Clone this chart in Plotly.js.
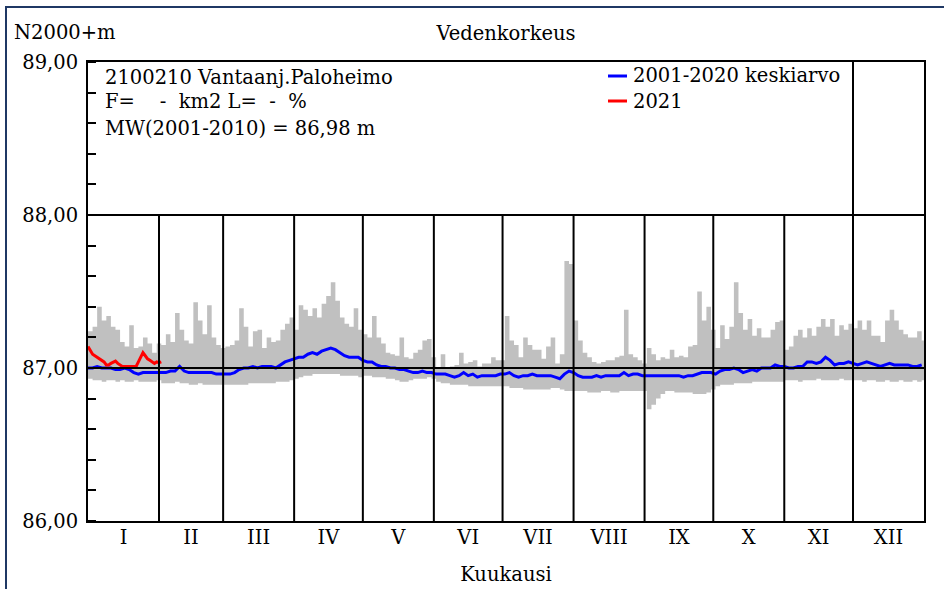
<!DOCTYPE html>
<html><head><meta charset="utf-8">
<script src="https://cdn.plot.ly/plotly-3.0.1.min.js"></script>
<style>html,body{margin:0;padding:0;background:#fff;} #chart{width:944px;height:589px;}</style>
</head><body><div id="chart"></div>
<script>
// ---- data ----
const monthStarts = [0, 31, 59, 90, 120, 151, 181, 212, 243, 273, 304, 334, 365];
const monthLabels = ['I', 'II', 'III', 'IV', 'V', 'VI', 'VII', 'VIII', 'IX', 'X', 'XI', 'XII'];
const yTickValues = [86, 87, 88, 89];
const yTickLabels = ['86,00', '87,00', '88,00', '89,00'];
const binDays = 2; // each value below covers 2 days

// daily maximum 2001-2020 (grey band top)
const maxLevel = [
  87.24, 87.27, 87.40, 87.31, 87.34, 87.27, 87.25, 87.17, 87.14, 87.28, 87.13, 87.14, 87.20, 87.16, 87.10, 87.16,
  87.15, 87.22, 87.17, 87.36, 87.25, 87.18, 87.16, 87.43, 87.31, 87.22, 87.41, 87.20, 87.15, 87.13,
  87.14, 87.15, 87.18, 87.39, 87.27, 87.14, 87.24, 87.25, 87.13, 87.20, 87.17, 87.18, 87.25, 87.29, 87.33,
  87.25, 87.41, 87.38, 87.34, 87.39, 87.33, 87.42, 87.47, 87.56, 87.44, 87.33, 87.29, 87.27, 87.39, 87.25,
  87.22, 87.20, 87.34, 87.20, 87.16, 87.10, 87.09, 87.08, 87.20, 87.07, 87.06, 87.10, 87.12, 87.18, 87.19, 87.07,
  87.00, 87.09, 87.00, 87.01, 87.02, 87.10, 87.03, 87.04, 87.05, 87.01, 87.03, 87.03, 87.07, 87.05, 87.05,
  87.34, 87.18, 87.15, 87.07, 87.20, 87.15, 87.12, 87.12, 87.06, 87.14, 87.20, 87.03, 87.09, 87.70, 87.68,
  87.31, 87.18, 87.10, 87.07, 87.04, 87.03, 87.04, 87.05, 87.05, 87.07, 87.08, 87.38, 87.09, 87.07, 87.05, 87.03,
  87.13, 87.09, 87.05, 87.07, 87.06, 87.12, 87.07, 87.08, 87.07, 87.14, 87.15, 87.50, 87.31, 87.40, 87.25,
  87.13, 87.28, 87.19, 87.27, 87.56, 87.36, 87.25, 87.32, 87.21, 87.26, 87.20, 87.20, 87.25, 87.30, 87.31,
  87.12, 87.14, 87.21, 87.25, 87.20, 87.26, 87.21, 87.27, 87.32, 87.27, 87.32, 87.21, 87.28, 87.25, 87.29,
  87.26, 87.31, 87.25, 87.31, 87.21, 87.21, 87.17, 87.31, 87.38, 87.31, 87.25, 87.22, 87.20, 87.20, 87.24, 87.18
];
// daily minimum 2001-2020 (grey band bottom)
const minLevel = [
  86.93, 86.92, 86.92, 86.91, 86.92, 86.92, 86.91, 86.92, 86.91, 86.91, 86.92, 86.91, 86.91, 86.91, 86.91, 86.92,
  86.90, 86.90, 86.90, 86.91, 86.90, 86.90, 86.89, 86.89, 86.90, 86.89, 86.89, 86.89, 86.89, 86.89,
  86.89, 86.89, 86.89, 86.89, 86.89, 86.90, 86.90, 86.90, 86.90, 86.90, 86.90, 86.91, 86.91, 86.91, 86.92,
  86.93, 86.94, 86.95, 86.95, 86.96, 86.96, 86.96, 86.96, 86.96, 86.96, 86.95, 86.95, 86.95, 86.95, 86.94,
  86.95, 86.95, 86.94, 86.94, 86.94, 86.93, 86.93, 86.92, 86.91, 86.91, 86.92, 86.93, 86.93, 86.93, 86.94, 86.93,
  86.91, 86.90, 86.90, 86.89, 86.89, 86.89, 86.89, 86.88, 86.88, 86.88, 86.88, 86.88, 86.88, 86.88, 86.88,
  86.88, 86.87, 86.87, 86.87, 86.86, 86.86, 86.86, 86.86, 86.86, 86.86, 86.87, 86.87, 86.86, 86.85, 86.85,
  86.85, 86.85, 86.85, 86.84, 86.84, 86.84, 86.85, 86.85, 86.84, 86.84, 86.85, 86.85, 86.85, 86.85, 86.85, 86.85,
  86.73, 86.76, 86.80, 86.83, 86.85, 86.85, 86.84, 86.84, 86.84, 86.84, 86.83, 86.83, 86.83, 86.84, 86.86,
  86.88, 86.89, 86.89, 86.89, 86.90, 86.90, 86.90, 86.90, 86.91, 86.91, 86.91, 86.91, 86.91, 86.91, 86.91,
  86.92, 86.92, 86.92, 86.91, 86.92, 86.92, 86.92, 86.93, 86.92, 86.92, 86.92, 86.92, 86.93, 86.92, 86.92,
  86.92, 86.92, 86.91, 86.92, 86.92, 86.91, 86.91, 86.92, 86.91, 86.91, 86.92, 86.91, 86.91, 86.92, 86.91, 86.92
];
// 2001-2020 keskiarvo
const meanLevel = [
  87.00, 87.00, 87.01, 87.00, 87.00, 87.00, 86.99, 86.99, 87.00, 86.99, 86.97, 86.96, 86.97, 86.97, 86.97, 86.97,
  86.97, 86.97, 86.98, 86.98, 87.01, 86.98, 86.97, 86.97, 86.97, 86.97, 86.97, 86.97, 86.96, 86.96,
  86.96, 86.96, 86.97, 86.99, 87.00, 87.00, 87.01, 87.00, 87.01, 87.01, 87.01, 87.00, 87.02, 87.04, 87.05,
  87.06, 87.07, 87.07, 87.09, 87.10, 87.09, 87.11, 87.12, 87.13, 87.12, 87.10, 87.08, 87.07, 87.07, 87.07,
  87.05, 87.04, 87.04, 87.02, 87.01, 87.01, 87.00, 87.00, 86.99, 86.99, 86.98, 86.97, 86.97, 86.98, 86.97, 86.97,
  86.96, 86.96, 86.96, 86.95, 86.94, 86.95, 86.97, 86.95, 86.96, 86.94, 86.95, 86.95, 86.95, 86.95, 86.96,
  86.96, 86.97, 86.95, 86.94, 86.95, 86.95, 86.96, 86.95, 86.95, 86.95, 86.95, 86.94, 86.93, 86.96, 86.98,
  86.97, 86.95, 86.94, 86.94, 86.94, 86.95, 86.94, 86.95, 86.95, 86.95, 86.95, 86.97, 86.95, 86.96, 86.96, 86.95,
  86.95, 86.95, 86.95, 86.95, 86.95, 86.95, 86.95, 86.95, 86.94, 86.95, 86.95, 86.96, 86.97, 86.97, 86.97,
  86.96, 86.98, 86.99, 86.99, 87.00, 86.99, 86.97, 86.98, 86.99, 86.98, 87.00, 87.00, 87.00, 87.02, 87.01,
  87.01, 87.00, 87.00, 87.01, 87.01, 87.04, 87.04, 87.03, 87.04, 87.07, 87.05, 87.02, 87.03, 87.03, 87.04,
  87.03, 87.02, 87.03, 87.04, 87.03, 87.02, 87.01, 87.02, 87.03, 87.02, 87.02, 87.02, 87.02, 87.01, 87.01, 87.02
];
// 2021 daily values
const days2021 = [0,1,2,3,4,5,6,7,8,9,10,11,12,13,14,15,16,17,18,19,20,21,22,23,24,25,26,27,28,29,30,31,32];
const level2021 = [
  87.14, 87.11, 87.09, 87.08, 87.07, 87.06, 87.05, 87.04, 87.02, 87.02, 87.03, 87.04, 87.045, 87.03, 87.02, 87.01,
  87.01, 87.01, 87.01, 87.01, 87.01, 87.01, 87.04, 87.07, 87.10, 87.08, 87.06, 87.05, 87.04, 87.03, 87.04, 87.035, 87.04
];
const seriesNames = ['2001-2020 keskiarvo', '2021'];
const infoLines = ['2100210 Vantaanj.Paloheimo',
  'F=\u00a0\u00a0\u00a0\u00a0-\u00a0\u00a0km2 L=\u00a0\u00a0-\u00a0\u00a0%',
  'MW(2001-2010) = 86,98 m'];

// ---- derived ----
const binStart = maxLevel.map((_, i) => i * binDays);
const yearEnd = monthStarts[monthStarts.length - 1];
const stepX = binStart.concat([yearEnd]);
const stepMax = maxLevel.concat([maxLevel[maxLevel.length - 1]]);
const stepMin = minLevel.concat([minLevel[minLevel.length - 1]]);
const monthMid = monthLabels.map((_, i) => (monthStarts[i] + monthStarts[i + 1]) / 2);

const W = 944, H = 589;
const M = {l: 88, r: 20, t: 62, b: 68};
const pw = W - M.l - M.r, ph = H - M.t - M.b;
const px = x => (x - M.l) / pw;          // pixel -> paper
const py = y => (H - M.b - y) / ph;

const FONT = 'DejaVu Serif';
const FS = 19.5;
const BLUE = '#0000ff', RED = '#ff0000', GREY = '#c0c0c0';

const traces = [
  {x: stepX, y: stepMin, type: 'scatter', mode: 'lines', line: {width: 0, shape: 'hv', color: GREY},
   hoverinfo: 'skip', showlegend: false},
  {x: stepX, y: stepMax, type: 'scatter', mode: 'lines', line: {width: 0, shape: 'hv', color: GREY},
   fill: 'tonexty', fillcolor: GREY, hoverinfo: 'skip', showlegend: false},
  {x: binStart, y: meanLevel, type: 'scatter', mode: 'lines', name: seriesNames[0],
   line: {color: BLUE, width: 3}, showlegend: false},
  {x: days2021, y: level2021, type: 'scatter', mode: 'lines', name: seriesNames[1],
   line: {color: RED, width: 3}, showlegend: false}
];

const shapes = [];
// month separators
monthStarts.slice(1, -1).forEach((d, i, arr) => {
  const last = i === arr.length - 1;
  shapes.push({type: 'line', xref: 'x', yref: 'y', x0: d, x1: d, y0: yTickValues[0],
    y1: last ? yTickValues[3] : yTickValues[2], line: {color: '#000', width: 2}, layer: 'above'});
});
// horizontal grid lines
[yTickValues[1], yTickValues[2]].forEach(v => {
  shapes.push({type: 'line', xref: 'paper', yref: 'y', x0: 0, x1: 1, y0: v, y1: v,
    line: {color: '#000', width: 2}, layer: 'above'});
});
// legend samples
[[BLUE, 76], [RED, 101]].forEach(([c, yy]) => {
  shapes.push({type: 'line', xref: 'paper', yref: 'paper', x0: px(608), x1: px(627), y0: py(yy), y1: py(yy),
    line: {color: c, width: 3}});
});
// outer frame
shapes.push({type: 'rect', xref: 'paper', yref: 'paper', x0: px(6), x1: px(960), y0: py(610), y1: py(7),
  line: {color: '#1f3864', width: 2}, layer: 'below'});

const annotations = [
  {text: 'N2000+m', xref: 'paper', yref: 'paper', x: px(12), y: py(33), xanchor: 'left', yanchor: 'middle', showarrow: false},
  {text: seriesNames[0], xref: 'paper', yref: 'paper', x: px(631), y: py(76), xanchor: 'left', yanchor: 'middle', showarrow: false},
  {text: seriesNames[1], xref: 'paper', yref: 'paper', x: px(631), y: py(101), xanchor: 'left', yanchor: 'middle', showarrow: false}
];
[77, 102, 128].forEach((yy, i) => {
  annotations.push({text: infoLines[i], xref: 'paper', yref: 'paper', x: px(103), y: py(yy),
    xanchor: 'left', yanchor: 'middle', showarrow: false});
});

const layout = {
  width: W, height: H,
  margin: M,
  paper_bgcolor: '#fff', plot_bgcolor: '#fff',
  font: {family: FONT, size: FS, color: '#000'},
  title: {text: 'Vedenkorkeus', x: 0.5, xref: 'paper', y: 1 - 33 / H, yref: 'container', yanchor: 'middle',
    font: {family: FONT, size: FS, color: '#000'}},
  showlegend: false,
  xaxis: {range: [0, yearEnd], tickvals: monthMid, ticktext: monthLabels, ticks: '', showgrid: false,
    zeroline: false, showline: true, mirror: true, linecolor: '#000', linewidth: 2, fixedrange: true,
    ticklabelstandoff: -2, tickfont: {family: FONT, size: FS},
    title: {text: 'Kuukausi', standoff: 19, font: {family: FONT, size: FS}}, automargin: false},
  yaxis: {range: [yTickValues[0], yTickValues[3]], tickvals: yTickValues, ticktext: yTickLabels, ticks: '',
    showgrid: false, zeroline: false, showline: true, mirror: true, linecolor: '#000', linewidth: 2,
    ticklabelstandoff: 4, automargin: false, fixedrange: true, tickfont: {family: FONT, size: FS},
    minor: {dtick: 0.2, tick0: 86, ticks: 'inside', ticklen: 8, tickwidth: 2, tickcolor: '#000', showgrid: false}},
  shapes: shapes,
  annotations: annotations
};

Plotly.newPlot('chart', traces, layout, {staticPlot: true, displayModeBar: false});
</script>
</body></html>
